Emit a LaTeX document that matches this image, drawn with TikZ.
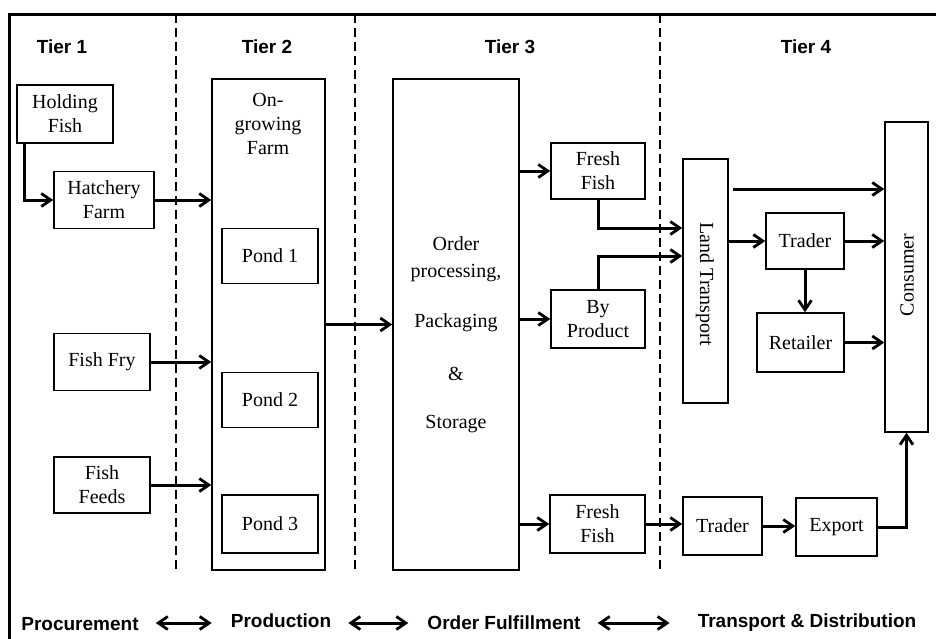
\documentclass[tikz,border=0pt]{standalone}
\usepackage{fontspec}
\setmainfont{Liberation Serif}
\newfontfamily\arialf{Liberation Sans}
\usetikzlibrary{arrows.meta}
\begin{document}
\begin{tikzpicture}[x=1pt,y=-1pt,
 box/.style={draw, line width=1.5pt, inner sep=0pt, font=\fontsize{20}{24}\selectfont, align=center},
 lbl/.style={font=\fontsize{20}{24}\selectfont, align=center, inner sep=0pt},
 tier/.style={font=\arialf\bfseries\fontsize{19}{24}\selectfont, inner sep=0pt},
 arr/.style={-{Straight Barb[length=9.5pt,width=13pt,line width=2.8pt]}, line width=3pt},
 darr/.style={{Straight Barb[length=9.5pt,width=13pt,line width=2.8pt]}-{Straight Barb[length=9.5pt,width=13pt,line width=2.8pt]}, line width=3pt},
 sep/.style={dash pattern=on 9pt off 5pt, line width=2.8pt},
 frame/.style={line width=3pt}
]
\useasboundingbox (0,0) rectangle (936,638);
% frame and tier separators
\draw[frame] (9,640) -- (9,14) -- (938,14);
\draw[sep] (176,14) -- (176,570);
\draw[sep] (355,14) -- (355,570);
\draw[sep] (660,14) -- (660,570);
% tier titles
\node[tier] (t1) at (62,47) {Tier 1};
\node[tier] (t2) at (267,47) {Tier 2};
\node[tier] (t3) at (510,47) {Tier 3};
\node[tier] (t4) at (806,47) {Tier 4};
% Tier 1
\node[box, minimum width=96, minimum height=58] (hold) at (65,114) {Holding\\Fish};
\node[box, minimum width=100, minimum height=57] (hatch) at (104,200) {Hatchery\\Farm};
\node[box, minimum width=96, minimum height=57] (fry) at (102,362) {Fish Fry};
\node[box, minimum width=96, minimum height=56] (feeds) at (102,485) {Fish\\Feeds};
% Tier 2
\node[box, minimum width=113, minimum height=491] (grow) at (268.5,324.5) {};
\node[lbl, text depth=0pt] (growtxt) at (268,124) {On-\\growing\\Farm};
\node[box, minimum width=96, minimum height=55] (p1) at (270,256) {Pond 1};
\node[box, minimum width=96, minimum height=55] (p2) at (270,400) {Pond 2};
\node[box, minimum width=96, minimum height=58] (p3) at (270,524) {Pond 3};
% Tier 3
\node[box, minimum width=126, minimum height=491] (order) at (456,324.5) {};
\node[lbl] (ordtxt) at (456,335) {Order\\[3pt]processing,\\[26pt]Packaging\\[29pt]\&\\[24pt]Storage};
\node[box, minimum width=94, minimum height=56] (ff1) at (598,171) {Fresh\\Fish};
\node[box, minimum width=94, minimum height=58] (bp) at (598,319) {By\\Product};
\node[box, minimum width=95, minimum height=58] (ff2) at (597.5,524) {Fresh\\Fish};
% Tier 4
\node[box, minimum width=45, minimum height=244] (land) at (705.5,281) {};
\node[lbl, rotate=-90] (landtxt) at (705,284) {Land Transport};
\node[box, minimum width=43, minimum height=310] (cons) at (906.5,277) {};
\node[lbl, rotate=90] (constxt) at (907,275) {Consumer};
\node[box, minimum width=78, minimum height=56] (tr1) at (805,241) {Trader};
\node[box, minimum width=87, minimum height=59] (ret) at (800.5,342.5) {Retailer};
\node[box, minimum width=79, minimum height=58] (tr2) at (722.5,526) {Trader};
\node[box, minimum width=81, minimum height=58] (exp) at (836.5,527) {Export};
% connectors
\draw[arr] ([xshift=8pt]hold.south west) |- (hatch.west);
\draw[arr] (hatch.east) -- (hatch.east -| grow.west);
\draw[arr] (fry.east) -- (fry.east -| grow.west);
\draw[arr] (feeds.east) -- (feeds.east -| grow.west);
\draw[arr] (grow.east) -- (order.west);
\draw[arr] (order.east |- ff1.west) -- (ff1.west);
\draw[arr] (order.east |- bp.west) -- (bp.west);
\draw[arr] (order.east |- ff2.west) -- (ff2.west);
\coordinate (j1) at (598,228);
\coordinate (j2) at (598,256);
\coordinate (j3) at (733,189);
\draw[arr] (ff1.south) -- (j1) -- (j1 -| land.west);
\draw[arr] (bp.north) -- (j2) -- (j2 -| land.west);
\draw[arr] (j3) -- (j3 -| cons.west);
\draw[arr] (land.east |- tr1.west) -- (tr1.west);
\draw[arr] (tr1.east) -- (tr1.east -| cons.west);
\draw[arr] (tr1.south) -- (tr1.south |- ret.north);
\draw[arr] (ret.east) -- (ret.east -| cons.west);
\draw[arr] (ff2.east) -- (ff2.east -| tr2.west);
\draw[arr] (tr2.east) -- (tr2.east -| exp.west);
\draw[arr] (exp.east) -| (cons.south);
% bottom labels
\node[tier] (proc) at (80,624) {Procurement};
\node[tier] (prod) at (281,621) {Production};
\node[tier] (ful) at (504,623) {Order Fulfillment};
\node[tier] (trd) at (807,623) {Transport \& Distribution};
\draw[darr] ([xshift=17pt]proc.east |- 0,623) -- ([xshift=-19pt]prod.west |- 0,623);
\draw[darr] ([xshift=17pt]prod.east |- 0,623) -- ([xshift=-19pt]ful.west |- 0,623);
\draw[darr] ([xshift=17pt]ful.east |- 0,623) -- ([xshift=-28pt]trd.west |- 0,623);
\end{tikzpicture}
\end{document}
